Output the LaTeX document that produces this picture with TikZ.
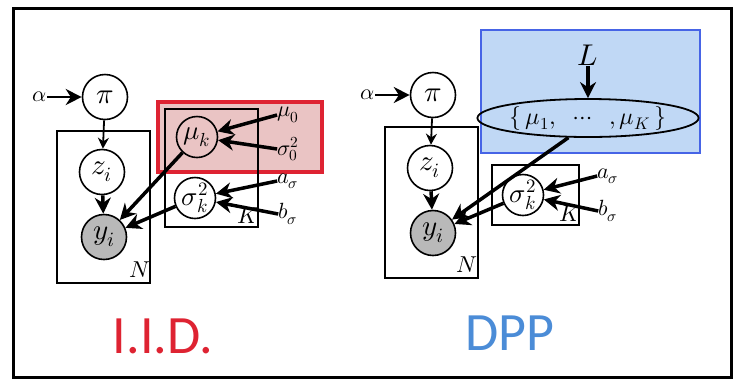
\documentclass[tikz,border=0pt]{standalone}
\usepackage{fontspec}
\usepackage{unicode-math}
\setmathfont{Latin Modern Math}
\newfontfamily\calib{Carlito}
\usetikzlibrary{arrows.meta,shapes.geometric}
\definecolor{iidred}{RGB}{222,35,50}
\definecolor{pinkfill}{RGB}{234,196,196}
\definecolor{dppblue}{RGB}{75,140,215}
\definecolor{bluefill}{RGB}{192,216,245}
\definecolor{blueborder}{RGB}{70,100,230}
\definecolor{obsgray}{RGB}{185,185,185}
\begin{document}
\begin{tikzpicture}[x=1pt,y=-1pt,
  var/.style={circle,draw,line width=1.6pt,minimum size=45pt,inner sep=0pt,font=\fontsize{29}{32}\selectfont},
  svar/.style={var,minimum size=41pt,font=\fontsize{27}{30}\selectfont},
  obs/.style={var,fill=obsgray},
  plate/.style={draw,line width=1.8pt},
  lbl/.style={font=\fontsize{22}{26}\selectfont,inner sep=0pt},
  platelbl/.style={font=\fontsize{23}{26}\selectfont,inner sep=0pt},
  thinarrow/.style={-{Stealth[length=11pt,width=11pt]},line width=1.8pt},
  thickarrow/.style={-{Stealth[length=16pt,width=16pt]},line width=3.5pt},
  title/.style={font=\calib\fontsize{54}{60}\selectfont,inner sep=0pt}
]
\useasboundingbox (0,0) rectangle (735,384);
\draw[line width=3pt] (13,8) rectangle (731,377);

% ---------- left panel: I.I.D.
\draw[draw=iidred,line width=4pt,fill=pinkfill] (158,102) rectangle (322,172);
\draw[plate] (57,131) rectangle (150,283);
\draw[plate] (165,109) rectangle (258,227);
\node[platelbl] (N1) at (140,270) {$N$};
\node[platelbl] (K1) at (248,216) {$K$};

\node[var] (pi1) at (105,97) {$\pi$};
\node[lbl] (a1) at (40,97) {$\alpha$};
\node[var] (z1) at (102,172) {$z_i$};
\node[obs] (y1) at (104,237) {$y_i$};
\node[svar] (mu1) at (197,137) {$\mu_k$};
\node[svar] (s1) at (195,198) {$\sigma_k^2$};
\node[lbl] (m0) at (288,115) {$\mu_0$};
\node[lbl] (s0) at (288,149) {$\sigma_0^2$};
\node[lbl] (as1) at (288,181) {$a_\sigma$};
\node[lbl] (bs1) at (288,214) {$b_\sigma$};

\draw[thickarrow,line width=2.5pt] (a1) -- (pi1);
\draw[thinarrow] (pi1) -- (z1);
\draw[thickarrow] (z1) -- (y1);
\draw[thickarrow] (mu1) -- (y1);
\draw[thickarrow] (s1) -- (y1);
\draw[thickarrow] (m0.west) -- (mu1);
\draw[thickarrow] (s0.west) -- (mu1);
\draw[thickarrow] (as1.west) -- (s1);
\draw[thickarrow] (bs1.west) -- (s1);

\node[title,text=iidred] (iid) at (163,336) {I.I.D.};

% ---------- right panel: DPP
\draw[draw=blueborder,line width=2.5pt,fill=bluefill] (481,30) rectangle (700,153);
\draw[plate] (385,127) rectangle (478,278);
\draw[plate] (492,165) rectangle (579,225);
\node[platelbl] (N2) at (467,265) {$N$};
\node[platelbl] (K2) at (570,214) {$K$};

\node[var] (pi2) at (433,95) {$\pi$};
\node[lbl] (a2) at (368,95) {$\alpha$};
\node[var] (z2) at (430,168) {$z_i$};
\node[obs] (y2) at (433,233) {$y_i$};
\node[svar] (s2) at (523,195) {$\sigma_k^2$};
\node[lbl] (as2) at (608,176) {$a_\sigma$};
\node[lbl] (bs2) at (608,211) {$b_\sigma$};
\node[font=\fontsize{30}{34}\selectfont,inner sep=1pt] (L) at (588,55) {$L$};
\node[ellipse,draw,line width=1.8pt,minimum width=210pt,minimum height=38pt,inner sep=0pt,font=\fontsize{24}{28}\selectfont] (mus) at (588,118) {$\{\,\mu_1,\;\;\cdots\;\;,\mu_K\,\}$};

\draw[thickarrow,line width=2.5pt] (a2) -- (pi2);
\draw[thinarrow] (pi2) -- (z2);
\draw[thickarrow] (z2) -- (y2);
\draw[thickarrow] (mus.225) -- (y2);
\draw[thickarrow] (s2) -- (y2);
\draw[thickarrow] (as2.west) -- (s2);
\draw[thickarrow] (bs2.west) -- (s2);
\draw[thickarrow] (L) -- (mus);

\node[title,text=dppblue] (dpp) at (510,333) {DPP};
\end{tikzpicture}
\end{document}
